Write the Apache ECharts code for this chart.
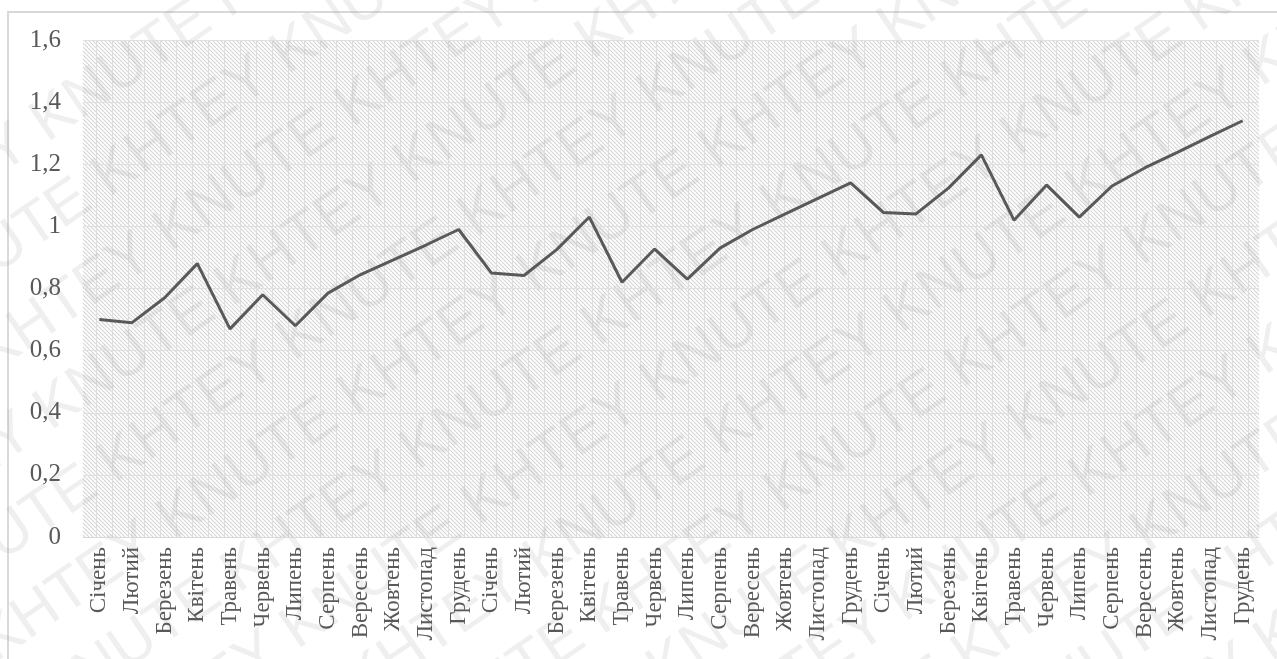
<!DOCTYPE html>
<html>
<head>
<meta charset="utf-8">
<script src="https://cdn.jsdelivr.net/npm/echarts@6/dist/echarts.min.js"></script>
<style>
  html, body { margin: 0; padding: 0; background: #fff; }
  #chart { width: 1277px; height: 659px; }
</style>
</head>
<body>
<div id="chart"></div>
<script>
const monthNames = ['Січень', 'Лютий', 'Березень', 'Квітень', 'Травень', 'Червень',
  'Липень', 'Серпень', 'Вересень', 'Жовтень', 'Листопад', 'Грудень'];
const categories = [...monthNames, ...monthNames, ...monthNames];

const values = [
  0.70, 0.69, 0.77, 0.88, 0.67, 0.78, 0.68, 0.785, 0.845, 0.892, 0.94, 0.99,
  0.85, 0.842, 0.925, 1.03, 0.82, 0.927, 0.83, 0.93, 0.99, 1.04, 1.09, 1.14,
  1.045, 1.04, 1.124, 1.23, 1.02, 1.133, 1.03, 1.13, 1.188, 1.238, 1.29, 1.34
];

const serif = "'Liberation Serif', 'Times New Roman', serif";

// hatch fill of the plot area (diagonal lines + thin vertical line per tile)
function makeHatch() {
  const c = document.createElement('canvas');
  c.width = 16; c.height = 16;
  const ctx = c.getContext('2d');
  ctx.fillStyle = '#ffffff';
  ctx.fillRect(0, 0, 16, 16);
  ctx.strokeStyle = '#d6d6d6';
  ctx.lineWidth = 1.1;
  for (let k = -16; k <= 16; k += 4) {
    ctx.beginPath();
    ctx.moveTo(k, 0);
    ctx.lineTo(k + 16, 16);
    ctx.stroke();
  }
  ctx.fillStyle = '#dedede';
  ctx.fillRect(0, 0, 1, 16);
  return c;
}

// watermark rows
function makeWatermark() {
  const words = ['KNUTE', 'KHTEY'];
  const items = [];
  for (let r = -6; r < 14; r++) {
    let line = '';
    for (let i = 0; i < 12; i++) line += words[(i + r + 60) % 2] + ' ';
    items.push({
      type: 'text',
      x: -400 + r * 20,
      y: r * 80,
      style: {
        text: line,
        font: "300 60px 'Liberation Sans', Arial, sans-serif",
        fill: 'rgba(150,150,150,0.15)'
      }
    });
  }
  return {
    type: 'group',
    x: 0,
    y: 700,
    rotation: 0.6,
    z: 1,
    silent: true,
    children: items
  };
}

const chart = echarts.init(document.getElementById('chart'));

const option = {
  backgroundColor: '#ffffff',
  animation: false,
  grid: {
    left: 83,
    right: 18,
    top: 40,
    bottom: 122,
    show: true,
    borderWidth: 0,
    backgroundColor: { image: makeHatch(), repeat: 'repeat' }
  },
  xAxis: {
    type: 'category',
    data: categories,
    boundaryGap: true,
    axisLine: { show: true, lineStyle: { color: '#d9d9d9', width: 1 } },
    axisTick: { show: false },
    axisLabel: {
      interval: 0,
      rotate: 90,
      margin: 10,
      color: '#595959',
      fontFamily: serif,
      fontSize: 23
    },
    splitLine: { show: false }
  },
  yAxis: {
    type: 'value',
    min: 0,
    max: 1.6,
    interval: 0.2,
    axisLine: { show: false },
    axisTick: { show: false },
    axisLabel: {
      margin: 22,
      color: '#595959',
      fontFamily: serif,
      fontSize: 25,
      formatter: v => String(Math.round(v * 10) / 10).replace('.', ',')
    },
    splitLine: { lineStyle: { color: '#e0e0e0', width: 1 } }
  },
  graphic: [
    {
      type: 'rect',
      shape: { x: 8, y: 12, width: 1400, height: 800 },
      style: { fill: 'none', stroke: '#d9d9d9', lineWidth: 2 },
      silent: true,
      z: 0
    },
    makeWatermark()
  ],
  series: [
    {
      type: 'line',
      data: values,
      symbol: 'none',
      z: 5,
      lineStyle: { color: '#595959', width: 3 }
    }
  ]
};

chart.setOption(option);
</script>
</body>
</html>
